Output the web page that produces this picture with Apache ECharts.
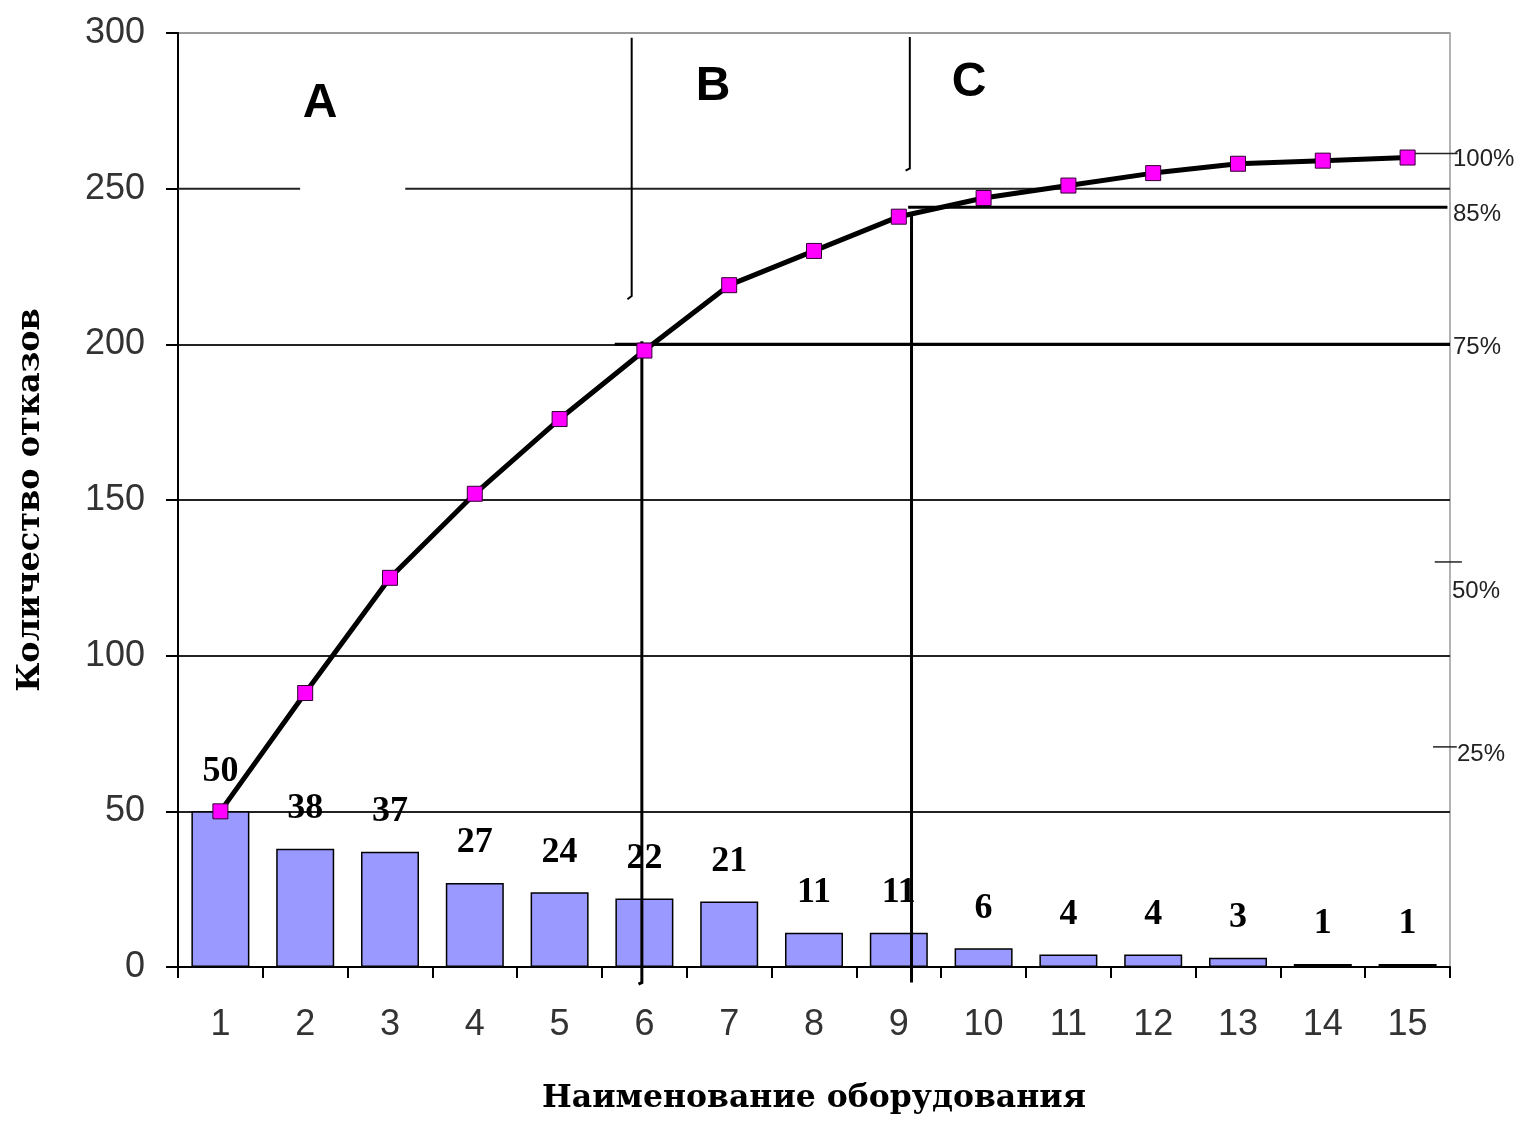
<!DOCTYPE html>
<html>
<head>
<meta charset="utf-8">
<script src="https://cdn.jsdelivr.net/npm/echarts@6/dist/echarts.min.js"></script>
<style>
html,body{margin:0;padding:0;background:#fff;}
#chart{width:1521px;height:1121px;}
</style>
</head>
<body>
<div id="chart"></div>
<script>
// ---- data ----
const categories = ['1','2','3','4','5','6','7','8','9','10','11','12','13','14','15'];
const failures = [50, 38, 37, 27, 24, 22, 21, 11, 11, 6, 4, 4, 3, 1, 1];
const cumulative = [50, 88, 125, 152, 176, 198, 219, 230, 241, 247, 251, 255, 258, 259, 260];
const yTicks = [0, 50, 100, 150, 200, 250, 300];
const zoneLabels = ['A', 'B', 'C'];
const percentLabels = ['100%', '85%', '75%', '50%', '25%'];

// annotation segments in (category-number, count) units
const annotationSegments = [
  {coords: [[0.5, 250], [1.94, 250]], w: 2, c: '#222'},
  {coords: [[3.18, 250], [15.5, 250]], w: 2, c: '#222'},
  {coords: [[5.85, 298.5], [5.85, 215.5], [5.8, 214.5]], w: 2, c: '#000'},
  {coords: [[5.97, 201], [5.97, -5], [5.93, -5.5]], w: 3, c: '#000'},
  {coords: [[9.13, 298.7], [9.13, 256.5], [9.08, 255.8]], w: 2, c: '#000'},
  {coords: [[9.15, 242.5], [9.15, -5]], w: 3, c: '#000'},
  {coords: [[9.11, 244], [15.47, 244]], w: 3, c: '#000'},
  {coords: [[5.65, 200], [15.5, 200]], w: 3, c: '#000'},
  {coords: [[15, 261.3], [15.59, 261.3]], w: 1.5, c: '#222'},
  {coords: [[15.32, 130.1], [15.64, 130.1]], w: 1.5, c: '#222'},
  {coords: [[15.30, 70.7], [15.58, 70.7]], w: 1.5, c: '#222'}
];

const chart = echarts.init(document.getElementById('chart'), null, {renderer: 'canvas'});

const splitColors = yTicks.map(v => v === 300 ? '#999' : (v === 250 ? 'rgba(0,0,0,0)' : '#222'));

const option = {
  animation: false,
  backgroundColor: '#fff',
  grid: {left: 178, right: 71, top: 33, bottom: 154, containLabel: false, outerBoundsMode: 'none', show: true, borderColor: '#999', borderWidth: 1.5, backgroundColor: 'transparent'},
  xAxis: [{
    type: 'category',
    data: categories,
    boundaryGap: true,
    name: 'Наименование оборудования',
    nameLocation: 'middle',
    nameGap: 116,
    nameTextStyle: {fontFamily: 'DejaVu Serif', fontWeight: 'bold', fontSize: 31.5, color: '#000'},
    axisLine: {lineStyle: {color: '#000', width: 2}},
    axisTick: {show: true, length: 11, lineStyle: {color: '#000', width: 2}},
    axisLabel: {fontFamily: 'Liberation Sans', fontSize: 36, color: '#333', margin: 40},
    splitLine: {show: false}
  }, {
    type: 'value', min: 0.5, max: 15.5, show: false
  }],
  yAxis: [{
    type: 'value',
    min: 0, max: 300, interval: 50,
    name: 'Количество отказов',
    nameLocation: 'middle',
    nameRotate: 90,
    nameGap: 131,
    nameTextStyle: {fontFamily: 'DejaVu Serif', fontWeight: 'bold', fontSize: 32, color: '#000'},
    axisLine: {show: true, lineStyle: {color: '#000', width: 2}},
    axisTick: {show: true, length: 12, lineStyle: {color: '#000', width: 2}},
    axisLabel: {fontFamily: 'Liberation Sans', fontSize: 36, color: '#333', margin: 33},
    splitLine: {show: true, showMinLine: true, showMaxLine: true, lineStyle: {color: splitColors, width: 2}}
  }],
  series: [{
    type: 'bar',
    data: failures,
    barWidth: 58,
    itemStyle: {color: '#9999FF', borderColor: '#000', borderWidth: 1.5},
    label: {show: true, position: 'top', distance: 22, fontFamily: 'Liberation Serif', fontWeight: 'bold', fontSize: 36, color: '#000'},
    z: 2
  }, {
    type: 'lines',
    coordinateSystem: 'cartesian2d',
    xAxisIndex: 1,
    yAxisIndex: 0,
    polyline: true,
    clip: false,
    silent: true,
    z: 3,
    data: annotationSegments.map(s => ({coords: s.coords, lineStyle: {color: s.c, width: s.w, opacity: 1}})),
    lineStyle: {type: 'solid', curveness: 0}
  }, {
    type: 'line',
    data: cumulative,
    symbol: 'rect',
    symbolSize: 15,
    lineStyle: {color: '#000', width: 5},
    itemStyle: {color: '#FF00FF', borderColor: '#300030', borderWidth: 1},
    z: 5
  }],
  graphic: [
    {type: 'text', x: 320, y: 104, style: {text: zoneLabels[0], font: 'bold 48px "Liberation Sans"', fill: '#000', align: 'center', verticalAlign: 'middle'}},
    {type: 'text', x: 713, y: 87, style: {text: zoneLabels[1], font: 'bold 48px "Liberation Sans"', fill: '#000', align: 'center', verticalAlign: 'middle'}},
    {type: 'text', x: 969, y: 83, style: {text: zoneLabels[2], font: 'bold 48px "Liberation Sans"', fill: '#000', align: 'center', verticalAlign: 'middle'}},
    {type: 'text', x: 1453, y: 159, style: {text: percentLabels[0], font: '24px "Liberation Sans"', fill: '#222', align: 'left', verticalAlign: 'middle'}},
    {type: 'text', x: 1453, y: 214, style: {text: percentLabels[1], font: '24px "Liberation Sans"', fill: '#222', align: 'left', verticalAlign: 'middle'}},
    {type: 'text', x: 1453, y: 347, style: {text: percentLabels[2], font: '24px "Liberation Sans"', fill: '#222', align: 'left', verticalAlign: 'middle'}},
    {type: 'text', x: 1452, y: 591, style: {text: percentLabels[3], font: '24px "Liberation Sans"', fill: '#222', align: 'left', verticalAlign: 'middle'}},
    {type: 'text', x: 1457, y: 754, style: {text: percentLabels[4], font: '24px "Liberation Sans"', fill: '#222', align: 'left', verticalAlign: 'middle'}}
  ]
};
chart.setOption(option);
</script>
</body>
</html>
